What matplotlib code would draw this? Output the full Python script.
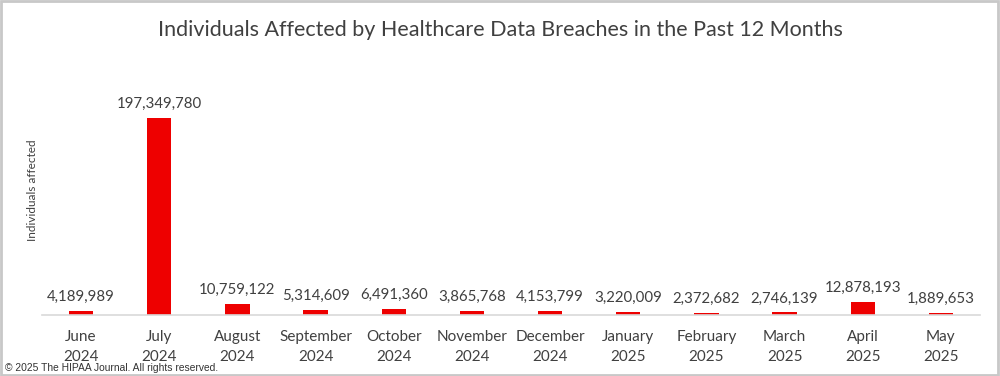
import matplotlib.pyplot as plt
from matplotlib.patches import Rectangle

# Datos del grafico
meses = ['June\n2024', 'July\n2024', 'August\n2024', 'September\n2024', 'October\n2024',
         'November\n2024', 'December\n2024', 'January\n2025', 'February\n2025',
         'March\n2025', 'April\n2025', 'May\n2025']
afectados = [4189989, 197349780, 10759122, 5314609, 6491360, 3865768,
             4153799, 3220009, 2372682, 2746139, 12878193, 1889653]

gris = '#404040'
rojo = '#EE0000'

fig = plt.figure(figsize=(10, 3.76), dpi=100)
ax = fig.add_axes([0.042, 0.162, 0.938, 0.532])

x = range(len(meses))
barras = ax.bar(x, afectados, width=0.31, color=rojo)
ax.set_xlim(-0.5, len(meses) - 0.5)
ax.set_ylim(0, 200000000)

for xi, v in zip(x, afectados):
    ax.annotate(f'{v:,}', (xi, v), xytext=(0, 5), textcoords='offset points',
                ha='center', va='bottom', fontsize=10.8, color=gris, family='Lato')

ax.set_xticks(list(x))
ax.set_xticklabels(meses, fontsize=11, color=gris, family='Lato', linespacing=1.55)
ax.tick_params(axis='x', length=0, pad=11)
ax.set_yticks([])
for s in ['top', 'right', 'left']:
    ax.spines[s].set_visible(False)
ax.spines['bottom'].set_color('#d9d9d9')
ax.spines['bottom'].set_linewidth(1.2)

fig.text(0.5, 0.92, 'Individuals Affected by Healthcare Data Breaches in the Past 12 Months',
         ha='center', va='center', fontsize=15.5, color=gris, family='Lato')
fig.text(0.033, 0.495, 'Individuals affected', rotation=90, ha='center', va='center',
         fontsize=8.5, color=gris, family='Lato')
fig.text(0.005, 0.021, '\u00a9 2025 The HIPAA Journal. All rights reserved.',
         ha='left', va='center', fontsize=7.4, color='#333333', family='Liberation Sans')

# Borde de la figura
fig.patches.append(Rectangle((0.001, 0.002), 0.997, 0.995, transform=fig.transFigure,
                             fill=False, edgecolor='#c8c8c8', linewidth=2))

fig.savefig('out.png', dpi=100)
